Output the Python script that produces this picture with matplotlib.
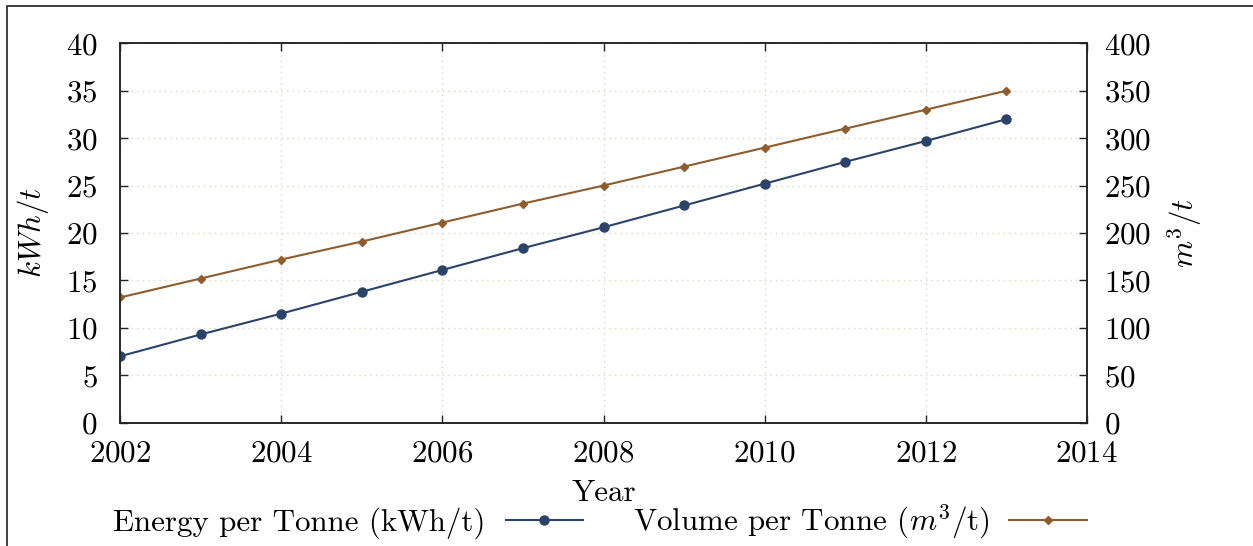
import matplotlib
matplotlib.use('Agg')
import matplotlib.pyplot as plt
from matplotlib.patches import Rectangle

# Data
years = [2002, 2003, 2004, 2005, 2006, 2007, 2008, 2009, 2010, 2011, 2012, 2013]
energy = [7.0, 9.3, 11.5, 13.8, 16.1, 18.4, 20.6, 22.9, 25.2, 27.5, 29.7, 32.0]
volume = [132, 152, 172, 191, 211, 231, 250, 270, 290, 310, 330, 350]

x_ticks = [2002, 2004, 2006, 2008, 2010, 2012, 2014]
y_left_ticks = [0, 5, 10, 15, 20, 25, 30, 35, 40]
y_right_ticks = [0, 50, 100, 150, 200, 250, 300, 350, 400]

blue = '#2b4369'
brown = '#8e5c2d'
grid_color = '#d9d9c2'

plt.rcParams['font.family'] = ['cmr10', 'DejaVu Serif']
plt.rcParams['mathtext.fontset'] = 'cm'
plt.rcParams['axes.formatter.use_mathtext'] = True
plt.rcParams['font.size'] = 22.3

W, H = 1253, 546
fig = plt.figure(figsize=(W / 100, H / 100), dpi=100)

# Axes box in pixel coords of the reference
left, right, top, bottom = 120, 1087, 43.3, 422.7
ax = fig.add_axes([left / W, 1 - bottom / H, (right - left) / W, (bottom - top) / H])

ax.plot(years, energy, color=blue, lw=1.5, marker='o', ms=6.5,
        label='Energy per Tonne (kWh/t)')
ax.set_xlim(2002, 2014)
ax.set_ylim(0, 40)
ax.set_xticks(x_ticks)
ax.set_yticks(y_left_ticks)
ax.set_xlabel('Year', labelpad=8)
ax.set_ylabel('$kWh/t$', labelpad=11)
ax.grid(True, color=grid_color, linestyle=(0, (1, 3)), linewidth=1.0)
ax.tick_params(axis='both', direction='in', length=6, width=1.0, color='#222222')
ax.tick_params(axis='x', top=True, pad=12.5)
ax.tick_params(axis='y', right=False, pad=16)
for s in ax.spines.values():
    s.set_color('#222222')
    s.set_linewidth(1.1)

ax2 = ax.twinx()
ax2.plot(years, volume, color=brown, lw=1.5, marker='D', ms=4.5,
         label='Volume per Tonne ($m^3$/t)')
ax2.set_ylim(0, 400)
ax2.set_yticks(y_right_ticks)
ax2.set_ylabel('$m^3/t$', labelpad=11)
ax2.tick_params(axis='y', direction='in', length=6, width=1.0, color='#222222', pad=12)
for s in ax2.spines.values():
    s.set_color('#222222')
    s.set_linewidth(1.1)

# Legend below the plot, text before the symbol
h1, l1 = ax.get_legend_handles_labels()
h2, l2 = ax2.get_legend_handles_labels()
fig.legend(h1 + h2, l1 + l2, loc='center', ncol=2, frameon=False,
           markerfirst=False, handlelength=2.5, handletextpad=0.65,
           columnspacing=1.6, bbox_to_anchor=(600 / W, 1 - 522 / H))

# Outer frame (clipped at right/bottom like the reference)
fig.patches.append(Rectangle((7 / W, -0.1), 1.2, 1.1 - 6 / H, transform=fig.transFigure,
                             fill=False, edgecolor='#333333', linewidth=1.3))

fig.savefig('out.png', dpi=100)
